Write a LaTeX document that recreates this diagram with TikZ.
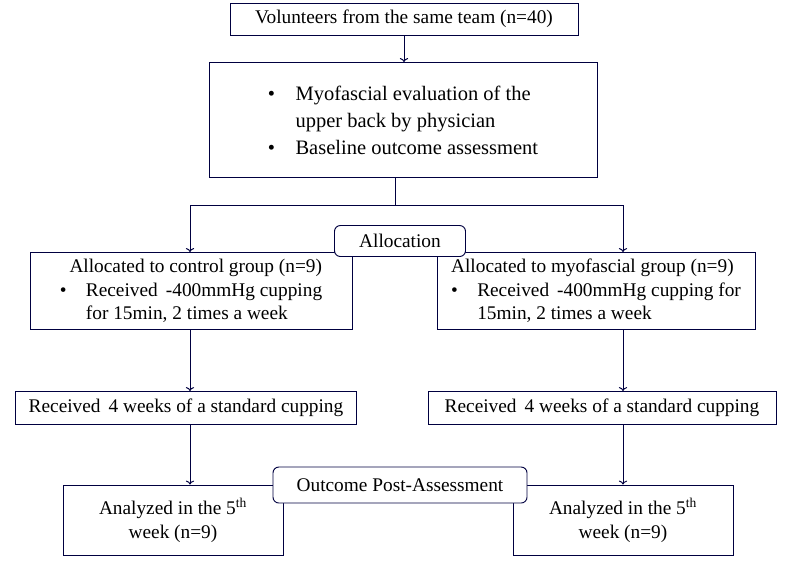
\documentclass[tikz,border=0pt]{standalone}
\usepackage{fontspec}
\setmainfont{Liberation Serif}
\usetikzlibrary{arrows.meta}

\tikzset{
	box/.style={draw=black!75!blue, thick, fill=white, inner sep=2pt, font=\fontsize{16.5}{20}\selectfont},
	tag/.style={box, rounded corners=5pt},
	flow/.style={->, thick, draw=black!75!blue}
}

\begin{document}
\begin{tikzpicture}[x=0.03cm, y=-0.03cm]
	\useasboundingbox (0,0) rectangle (800,578);

	\node[box, minimum width=348*0.03cm, minimum height=32*0.03cm] (vol) at (404,19) {Volunteers from the same team (n=40)};
	\node[box, minimum width=388*0.03cm, minimum height=115*0.03cm, align=left, font=\fontsize{17.5}{23}\selectfont] (eval) at (403,120)
		{\textbullet\quad Myofascial evaluation of the\\ \phantom{\textbullet\quad}upper back by physician\\ \textbullet\quad Baseline outcome assessment};

	\node[box, minimum width=322*0.03cm, minimum height=77*0.03cm, align=left] (ctrl) at (191,291)
		{\ \ Allocated to control group (n=9)\\ \textbullet\quad Received \,-400mmHg cupping\\ \phantom{\textbullet\quad}for 15min, 2 times a week};
	\node[box, minimum width=318*0.03cm, minimum height=77*0.03cm, align=left] (myo) at (596,291)
		{Allocated to myofascial group (n=9)\\ \textbullet\quad Received \,-400mmHg cupping for\\ \phantom{\textbullet\quad}15min, 2 times a week};

	\node[box, minimum width=341*0.03cm, minimum height=33*0.03cm] (ctrlstd) at (186,408) {Received \,4 weeks of a standard cupping};
	\node[box, minimum width=348*0.03cm, minimum height=33*0.03cm] (myostd) at (602,408) {Received \,4 weeks of a standard cupping};

	\node[box, minimum width=220*0.03cm, minimum height=70*0.03cm, align=center] (ctrlend) at (173,520) {Analyzed in the 5\textsuperscript{th}\\ week (n=9)};
	\node[box, minimum width=220*0.03cm, minimum height=70*0.03cm, align=center] (myoend) at (623,520) {Analyzed in the 5\textsuperscript{th}\\ week (n=9)};

	\coordinate (split) at (395,205);
	\draw[flow] (vol.south) -- (vol.south |- eval.north);
	\draw[thick, draw=black!75!blue] (eval.south -| split) -- (split);
	\draw[flow] (split) -| ([xshift=-1*0.03cm]ctrl.north);
	\draw[flow] (split) -| ([xshift=27*0.03cm]myo.north);

	\node[tag, minimum width=131*0.03cm, minimum height=31*0.03cm] (alloc) at (400,241) {Allocation};

	\draw[flow] (ctrl.south -| ctrlstd.north) ++(4*0.03cm,0) coordinate (c1) -- (c1 |- ctrlstd.north);
	\draw[flow] (myo.south) ++(27*0.03cm,0) coordinate (m1) -- (m1 |- myostd.north);
	\draw[flow] (c1 |- ctrlstd.south) -- (c1 |- ctrlend.north);
	\draw[flow] (m1 |- myostd.south) -- (m1 |- myoend.north);

	\node[tag, minimum width=254*0.03cm, minimum height=36*0.03cm] (post) at (400,485) {Outcome Post-Assessment};
\end{tikzpicture}
\end{document}
